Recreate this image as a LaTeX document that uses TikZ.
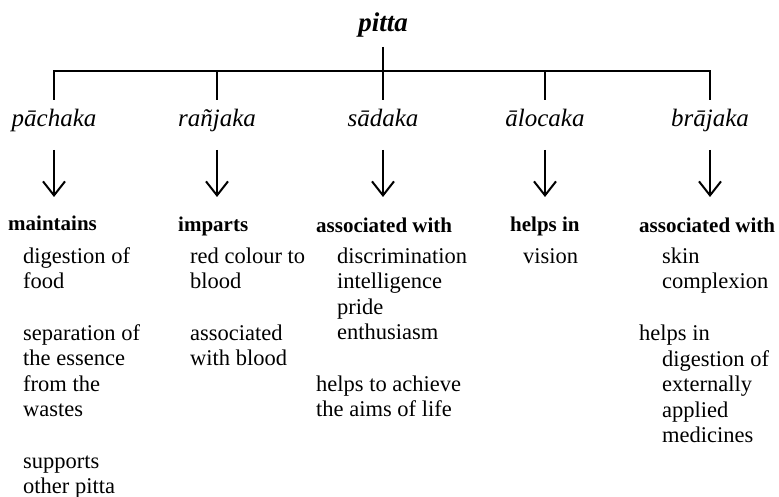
\documentclass[tikz,border=0pt]{standalone}
\usepackage{fontspec}
\setmainfont{Liberation Serif}
\usetikzlibrary{arrows.meta}
% a block of lines whose baseline is that of its first line
\newcommand{\linestack}[1]{\begin{tabular}[t]{@{}l@{}}#1\end{tabular}}
\begin{document}
\begin{tikzpicture}[x=1pt,y=-1pt,
  tree/.style={line width=2pt},
  down/.style={line width=2pt,-{Straight Barb[length=14pt,width=22pt]}},
  root/.style={font=\fontsize{27}{30}\selectfont\bfseries\itshape, inner sep=0pt, anchor=base},
  kind/.style={font=\fontsize{25}{28}\selectfont\itshape, inner sep=0pt, anchor=base},
  head/.style={font=\fontsize{21}{25}\selectfont\bfseries, inner sep=0pt, anchor=base west},
  item/.style={font=\fontsize{22.5}{25.6}\selectfont, inner sep=0pt, anchor=base west},
]
\useasboundingbox (0,0) rectangle (779,497);

% root and the five kinds
\node[root] (pitta) at (383,32) {pitta};
\node[kind] (pac) at (54,127) {pāchaka};
\node[kind] (ran) at (217,127) {rañjaka};
\node[kind] (sad) at (383,127) {sādaka};
\node[kind] (alo) at (545,127) {ālocaka};
\node[kind] (bra) at (710,127) {brājaka};

% branching lines
\draw[tree] ([yshift=-15pt]pitta.base) -- ([yshift=27pt]sad.base);
\draw[tree] ([yshift=27pt]pac.base) -- ([yshift=56pt]pac.base)
  -- ([yshift=56pt]bra.base) -- ([yshift=27pt]bra.base);
\draw[tree] ([yshift=27pt]ran.base) -- ([yshift=56pt]ran.base);
\draw[tree] ([yshift=27pt]alo.base) -- ([yshift=56pt]alo.base);

% arrows down to the functions
\foreach \n in {pac,ran,sad,alo,bra}
  \draw[down] ([yshift=-23pt]\n.base) -- ([yshift=-70pt]\n.base);

% headings
\node[head] (h1) at (8,231) {maintains};
\node[head] (h2) at (178,232) {imparts};
\node[head] (h3) at (316,233) {associated with};
\node[head] (h4) at (510,232) {helps in};
\node[head] (h5) at (639,233) {associated with};

% pachaka
\node[item] (p1) at (23,263) {\linestack{digestion of\\food}};
\node[item] (p2) at (23,340) {\linestack{separation of\\the essence\\from the\\wastes}};
\node[item] (p3) at (23,468) {\linestack{supports\\other pitta}};
% ranjaka
\node[item] (r1) at (190,263) {\linestack{red colour to\\blood}};
\node[item] (r2) at (190,340) {\linestack{associated\\with blood}};
% sadaka
\node[item] (s1) at (337,263) {\linestack{discrimination\\intelligence\\pride\\enthusiasm}};
\node[item] (s2) at (316,391) {\linestack{helps to achieve\\the aims of life}};
% alocaka
\node[item] (a1) at (523,263) {vision};
% brajaka
\node[item] (b1) at (662,263) {\linestack{skin\\complexion}};
\node[item] (b2) at (639,340) {helps in};
\node[item] (b3) at (662,366) {\linestack{digestion of\\externally\\applied\\medicines}};
\end{tikzpicture}
\end{document}
